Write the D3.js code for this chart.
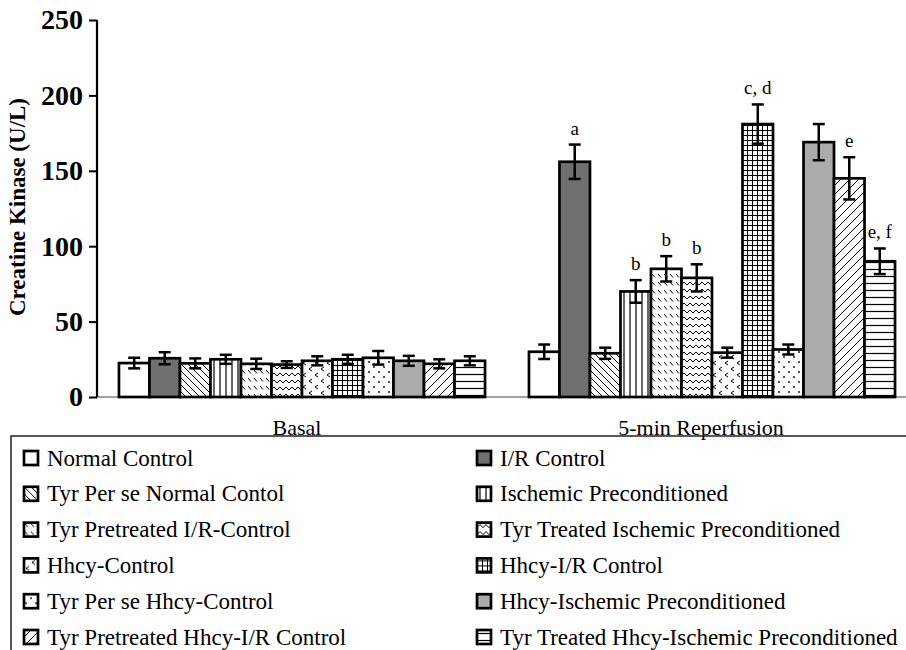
<!DOCTYPE html>
<html>
<head>
<meta charset="utf-8">
<script src="https://cdn.jsdelivr.net/npm/d3@7"></script>
<style>
  body { margin: 0; background: #fff; }
  svg { display: block; font-family: "Liberation Serif", "Times New Roman", serif; }
</style>
</head>
<body>
<svg id="chart" width="906" height="650"></svg>
<script>
// data
const phases = ['Basal', '5-min Reperfusion'];
const groups = [
  'Normal Control', 'I/R Control',
  'Tyr Per se Normal Contol', 'Ischemic Preconditioned',
  'Tyr Pretreated I/R-Control', 'Tyr Treated Ischemic Preconditioned',
  'Hhcy-Control', 'Hhcy-I/R Control',
  'Tyr Per se Hhcy-Control', 'Hhcy-Ischemic Preconditioned',
  'Tyr Pretreated Hhcy-I/R Control', 'Tyr Treated Hhcy-Ischemic Preconditioned'
];
const basalMean = [22.5, 25.7, 22.3, 25, 22, 21.5, 24, 25, 26, 24, 22, 24];
const basalErr = [3.5, 4, 3.3, 3, 3.4, 2.2, 3, 3, 4.5, 3.3, 3, 3];
const reperfMean = [30, 156, 29, 70, 85, 79, 29.4, 181, 31.5, 169, 145, 90];
const reperfErr = [4.8, 11.4, 3.7, 7.5, 8.4, 9, 3.3, 13, 3.3, 12, 14, 8.5];
const reperfMarks = ['', 'a', '', 'b', 'b', 'b', '', 'c, d', '', '', 'e', 'e, f'];
const yTicks = [0, 50, 100, 150, 200, 250];

const svg = d3.select('#chart');
const margin = { top: 20, left: 97, bottom: 397 };

// fills / hatch patterns, one per group
const defs = svg.append('defs');
function pat(id, w, h, draw) {
  const p = defs.append('pattern')
    .attr('id', id)
    .attr('patternUnits', 'userSpaceOnUse')
    .attr('width', w)
    .attr('height', h);
  p.append('rect').attr('width', w).attr('height', h).attr('fill', '#fff');
  draw(p);
}
const ln = (p, d, sw) => p.append('path').attr('d', d).attr('stroke', '#000')
  .attr('stroke-width', sw || 1).attr('fill', 'none');

pat('p2', 7, 7, (p) => ln(p, 'M0,0L7,7M-1,6L1,8M6,-1L8,1'));
pat('p3', 6, 6, (p) => ln(p, 'M3,0V6', 1.2));
pat('p4', 6, 8, (p) => ln(p, 'M1,2L4,5.5'));
pat('p5', 6, 7, (p) => ln(p, 'M0,5L3,2L6,5'));
pat('p6', 12, 12, (p) => ln(p, 'M5,1L2,3L5,5M11,7L8,9L11,11'));
pat('p7', 5, 5, (p) => ln(p, 'M0,0.5H5M0.5,0V5'));
pat('p8', 10, 10, (p) => {
  p.append('circle').attr('cx', 2).attr('cy', 2).attr('r', 0.9).attr('fill', '#000');
  p.append('circle').attr('cx', 7).attr('cy', 7).attr('r', 0.9).attr('fill', '#000');
});
pat('p10', 9, 9, (p) => ln(p, 'M0,9L9,0M-1,1L1,-1M8,10L10,8'));
pat('p11', 7, 7, (p) => ln(p, 'M0,3.5H7', 1.2));

const fills = ['#fff', '#6f6f6f', 'url(#p2)', 'url(#p3)', 'url(#p4)', 'url(#p5)',
  'url(#p6)', 'url(#p7)', 'url(#p8)', '#ababab', 'url(#p10)', 'url(#p11)'];

const x0 = d3.scaleBand().domain(phases).range([margin.left, 917]);
const x1 = d3.scaleBand().domain(groups).range([0, x0.bandwidth()])
  .paddingInner(0).paddingOuter(0.72);
const y = d3.scaleLinear().domain([0, 250]).range([margin.bottom, margin.top]);

const series = [
  { phase: phases[0], mean: basalMean, err: basalErr, marks: [] },
  { phase: phases[1], mean: reperfMean, err: reperfErr, marks: reperfMarks }
];

// x baseline
svg.append('line')
  .attr('x1', margin.left).attr('x2', 906)
  .attr('y1', margin.bottom).attr('y2', margin.bottom)
  .attr('stroke', '#444').attr('stroke-width', 1.2);

series.forEach((s) => {
  const g = svg.append('g').attr('transform', `translate(${x0(s.phase)},0)`);
  const rows = groups.map((name, i) => ({ name, i, v: s.mean[i], e: s.err[i], m: s.marks[i] || '' }));

  g.selectAll('rect')
    .data(rows)
    .enter()
    .append('rect')
    .attr('x', (d) => x1(d.name))
    .attr('y', (d) => y(d.v))
    .attr('width', x1.bandwidth())
    .attr('height', (d) => y(0) - y(d.v))
    .attr('fill', (d) => fills[d.i])
    .attr('stroke', '#000')
    .attr('stroke-width', 2.7);

  const eb = g.selectAll('.err')
    .data(rows)
    .enter()
    .append('g')
    .attr('transform', (d) => `translate(${x1(d.name) + x1.bandwidth() / 2},0)`)
    .attr('stroke', '#000')
    .attr('stroke-width', 2.5);
  eb.append('line').attr('y1', (d) => y(d.v + d.e)).attr('y2', (d) => y(d.v - d.e));
  eb.append('line').attr('x1', -6).attr('x2', 6)
    .attr('y1', (d) => y(d.v + d.e)).attr('y2', (d) => y(d.v + d.e));
  eb.append('line').attr('x1', -6).attr('x2', 6)
    .attr('y1', (d) => y(d.v - d.e)).attr('y2', (d) => y(d.v - d.e));

  g.selectAll('.mark')
    .data(rows.filter((d) => d.m))
    .enter()
    .append('text')
    .attr('x', (d) => x1(d.name) + x1.bandwidth() / 2)
    .attr('y', (d) => y(d.v + d.e) - 10)
    .attr('text-anchor', 'middle')
    .attr('font-size', 19)
    .text((d) => d.m);
});

// phase labels
svg.append('g')
  .selectAll('text')
  .data(phases)
  .enter()
  .append('text')
  .attr('x', (d, i) => x0(d) + x0.bandwidth() / 2 - (i ? 11 : 5))
  .attr('y', 435)
  .attr('text-anchor', 'middle')
  .attr('font-size', 22)
  .text((d) => d);

// y axis
const yAxis = svg.append('g')
  .attr('transform', `translate(${margin.left},0)`)
  .call(d3.axisLeft(y).tickValues(yTicks).tickSize(8).tickPadding(6));
yAxis.select('.domain').attr('stroke-width', 2.2).attr('d', `M0,${margin.top}V${margin.bottom}`);
yAxis.selectAll('.tick line').attr('stroke-width', 2);
yAxis.selectAll('.tick text')
  .attr('font-family', '"Liberation Serif", serif')
  .attr('font-weight', 'bold')
  .attr('font-size', 28)
  .attr('fill', '#000');

svg.append('text')
  .attr('transform', 'translate(25,207) rotate(-90)')
  .attr('text-anchor', 'middle')
  .attr('font-weight', 'bold')
  .attr('font-size', 23)
  .text('Creatine Kinase (U/L)');

// legend
svg.append('rect')
  .attr('x', 11).attr('y', 436)
  .attr('width', 1000).attr('height', 400)
  .attr('fill', 'none').attr('stroke', '#222').attr('stroke-width', 1.5);

const leg = svg.append('g')
  .selectAll('g')
  .data(groups)
  .enter()
  .append('g')
  .attr('transform', (d, i) => `translate(${i % 2 ? 477 : 24},${458 + Math.floor(i / 2) * 35.8})`);
leg.append('rect')
  .attr('x', 0).attr('y', -7)
  .attr('width', 14).attr('height', 14)
  .attr('fill', (d, i) => fills[i])
  .attr('stroke', '#000').attr('stroke-width', 2.7);
leg.append('text')
  .attr('x', 23).attr('y', 7.5)
  .attr('font-size', 23)
  .text((d) => d);
</script>
</body>
</html>
